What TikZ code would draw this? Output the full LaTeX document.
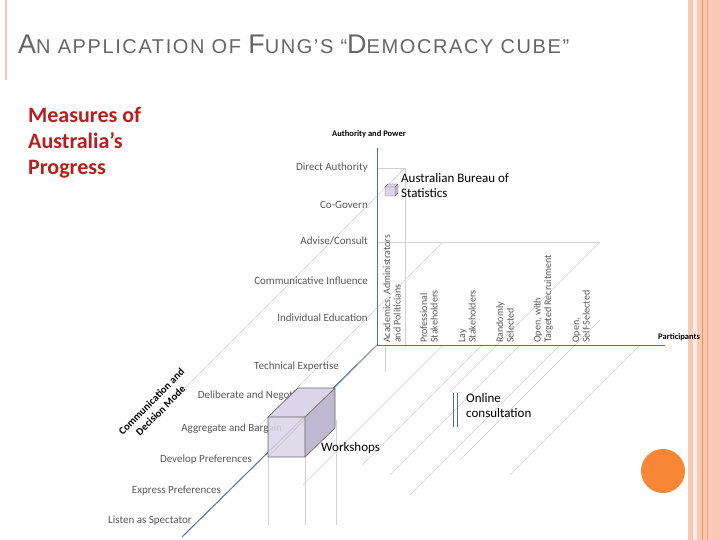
\documentclass[tikz,border=0pt]{standalone}
\usepackage{fontspec}
\setmainfont{Carlito}
\newfontfamily\titlefont[LetterSpace=8]{Liberation Sans}
\begin{document}
\begin{tikzpicture}[x=1pt,y=-1pt,
 ax/.style={draw={rgb,255:red,80;green,110;blue,160},line width=1pt},
 grid/.style={draw=black!18,line width=0.5pt},
 lab/.style={font=\fontsize{11}{12}\selectfont,text=black!65,inner sep=0pt},
 plab/.style={font=\fontsize{10}{10.5}\selectfont,text=black!65,inner sep=0pt,rotate=90,anchor=south west,align=left},
 bl/.style={font=\fontsize{13}{15}\selectfont,inner sep=0pt,align=left,anchor=north west}]
\definecolor{pinkb}{RGB}{250,200,180}
\definecolor{orng}{RGB}{247,135,55}
\definecolor{dred}{RGB}{185,30,30}
\definecolor{cubef}{RGB}{218,213,232}
\definecolor{cubes}{RGB}{192,184,208}
\useasboundingbox (0,0) rectangle (720,540);
\fill[white] (0,0) rectangle (720,540);
% right stripes
\fill[pinkb] (688,0) rectangle (720,540);
\fill[white!70!pinkb] (693,0) rectangle (697,540);
\draw[orng!80!pinkb,line width=0.8pt] (702,0) -- (702,540);
\draw[orng!60!pinkb,line width=0.6pt] (707,0) -- (707,540);
\draw[pinkb,line width=1.5pt] (6,0) -- (6,80);
\fill[orng] (663,471) circle (22);
% title
\node[anchor=base west,inner sep=0pt,text=black!60] (title) at (18,54)
 {\titlefont\fontsize{27}{30}\selectfont A\fontsize{20}{22}\selectfont N APPLICATION OF \fontsize{27}{30}\selectfont F\fontsize{20}{22}\selectfont UNG’S “\fontsize{27}{30}\selectfont D\fontsize{20}{22}\selectfont EMOCRACY CUBE”};
\node[anchor=north west,inner sep=0pt,align=left,text=dred,font=\bfseries\fontsize{22}{26}\selectfont] (map) at (28,107) {Measures of\\Australia’s\\Progress};
% grid
\coordinate (O) at (377,345);
\draw[grid] (377,168) -- (405,168) -- (405,345);
\draw[grid] (377,242) -- (600,242);
\foreach \x/\y/\l in {405/168/230,443/242/190,600/242/150,600/320/140}
  \draw[grid] (\x,\y) -- ++(-\l,\l);
\foreach \x/\y/\l in {443/345/140,482/345/120,520/345/130,560/345/150,640/345/130}
  \draw[grid] (\x,\y) -- ++(-\l,\l);
\draw[grid] (385,345) -- (385,372);
\foreach \x in {268,305,336} \draw[grid] (\x,420) -- (\x,525);
% axes
\draw[ax] (377,148) -- (O) -- (665,345);
\draw[ax] (O) -- (182,537);
\node[font=\bfseries\fontsize{8.5}{9}\selectfont,inner sep=0pt] (ap) at (369,134) {Authority and Power};
\node[font=\bfseries\fontsize{8.5}{9}\selectfont,inner sep=0pt,anchor=west] (pa) at (658,337) {Participants};
\node[font=\bfseries\fontsize{10.5}{13}\selectfont,rotate=45,align=center,inner sep=0pt] (cd) at (156,406) {Communication and\\Decision Mode};
% vertical axis labels
\node[lab,anchor=east] (l1) at (368,168) {Direct Authority};
\node[lab,anchor=east] (l2) at (368,205) {Co-Govern};
\node[lab,anchor=east] (l3) at (368,241) {Advise/Consult};
\node[lab,anchor=east] (l4) at (368,281) {Communicative Influence};
\node[lab,anchor=east] (l5) at (368,318) {Individual Education};
% depth labels
\node[lab,anchor=east] (d1) at (339,367) {Technical Expertise};
\node[lab,anchor=east] (d2) at (310,396) {Deliberate and Negotiate};
\node[lab,anchor=east] (d3) at (282,429) {Aggregate and Bargain};
\node[lab,anchor=east] (d4) at (252,460) {Develop Preferences};
\node[lab,anchor=east] (d5) at (221,491) {Express Preferences};
\node[lab,anchor=east] (d6) at (192,521) {Listen as Spectator};
% participant labels
\node[plab] (p1) at (401,343) {Academics, Administrators\\and Politicians};
\node[plab] (p2) at (438,343) {Professional\\Stakeholders};
\node[plab] (p3) at (476,343) {Lay\\Stakeholders};
\node[plab] (p4) at (514,343) {Randomly\\Selected};
\node[plab] (p5) at (553,343) {Open, with\\Targeted Recruitment};
\node[plab] (p6) at (590,343) {Open,\\Self-Selected};
% big cube
\fill[cubef] (268,417) -- (298,388) -- (335,388) -- (305,417) -- cycle;
\fill[cubes] (305,417) -- (335,388) -- (335,428) -- (305,457) -- cycle;
\fill[cubef,opacity=0.85] (268,417) rectangle (305,457);
\draw[black!25] (268,457) -- (377,345);
\draw[draw=black!60,line width=0.6pt] (268,417) -- (298,388) -- (335,388) -- (335,428) -- (305,457) -- (268,457) -- cycle (268,417) -- (305,417) -- (335,388) (305,417) -- (305,457);
\node[bl,anchor=west] (ws) at (321,448) {Workshops};
% small cube
\fill[cubef] (385,187) -- (388,184) -- (398,184) -- (395,187) -- cycle;
\fill[cubes] (395,187) -- (398,184) -- (398,193) -- (395,196) -- cycle;
\fill[cubef] (385,187) rectangle (395,196);
\draw[black!60,line width=0.4pt] (385,187) -- (388,184) -- (398,184) -- (398,193) -- (395,196) -- (385,196) -- cycle (385,187) -- (395,187) -- (398,184) (395,187) -- (395,196);
\node[bl] (abs) at (401,173) {Australian Bureau of\\Statistics};
% online consultation
\draw[ax,line width=0.8pt] (453,393) -- (453,427) (457,393) -- (457,427);
\node[bl] (oc) at (466,393) {Online\\consultation};
\end{tikzpicture}
\end{document}
